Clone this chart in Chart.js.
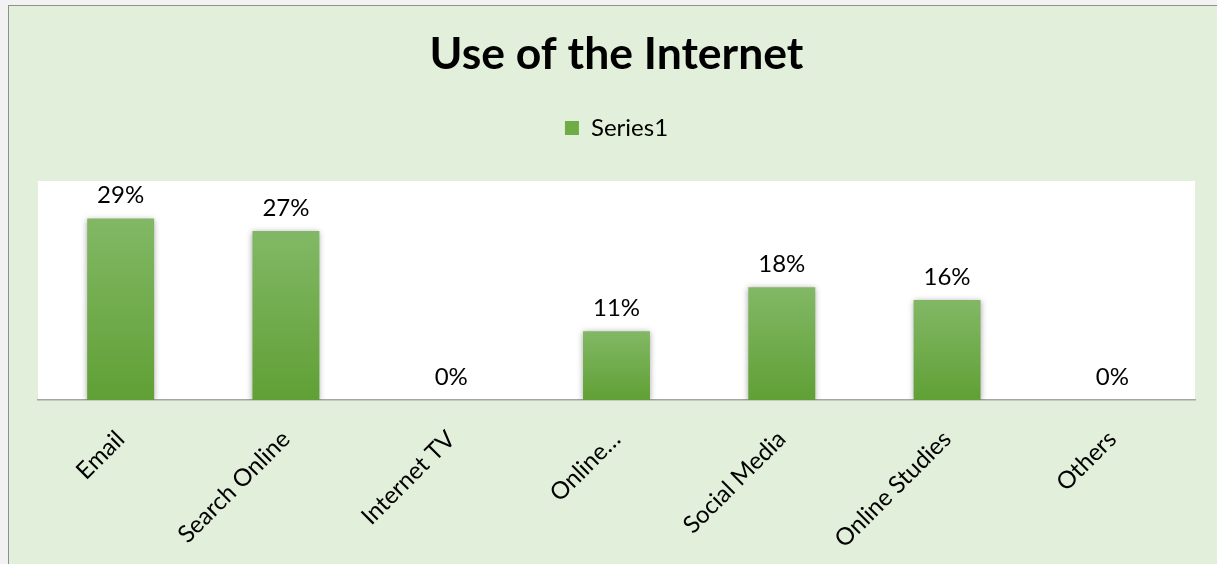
<!DOCTYPE html>
<html>
<head>
<meta charset="utf-8">
<script src="https://cdn.jsdelivr.net/npm/chart.js@4/dist/chart.umd.min.js"></script>
<style>
  html, body { margin: 0; padding: 0; background: #f2f2f2; overflow: hidden; }
  #frame {
    position: absolute; left: 8px; top: 5px;
    width: 1209px; height: 559px;
    background: #e2efda;
    border-left: 1px solid #8f8f8f;
    border-top: 1px solid #8f8f8f;
  }
  #usage { display: block; }
</style>
</head>
<body>
<div id="frame"><canvas id="usage" width="1208" height="558"></canvas></div>
<script>
// categories and shares (percent)
const categories = ["Email", "Search Online", "Internet TV", "Online…", "Social Media", "Online Studies", "Others"];
const shares = [29, 27, 0, 11, 18, 16, 0];
const seriesName = "Series1";

const FONT = "Lato, 'Open Sans', sans-serif";

// vertical gradient per bar: lighter top, darker bottom
function barFill(ctx) {
  const chart = ctx.chart;
  const y = chart.scales.y;
  if (!y || ctx.type !== "data") return "#70ad47";
  const top = y.getPixelForValue(ctx.raw);
  const bottom = y.getPixelForValue(0);
  if (!isFinite(top) || bottom - top < 1) return "#70ad47";
  const g = chart.ctx.createLinearGradient(0, top, 0, bottom);
  g.addColorStop(0, "#82b865");
  g.addColorStop(1, "#60a035");
  return g;
}

// white plot area, soft shadow under bars, value labels above bars
const plotDecor = {
  id: "plotDecor",
  beforeInit(chart) {
    const fit = chart.legend.fit;
    chart.legend.fit = function () {
      fit.call(this);
      this.height += 31;
    };
  },
  beforeDraw(chart) {
    const { ctx, chartArea: a } = chart;
    ctx.save();
    ctx.fillStyle = "#ffffff";
    ctx.fillRect(a.left, a.top, a.right - a.left, a.bottom - a.top);
    ctx.restore();
  },
  beforeDatasetsDraw(chart) {
    const ctx = chart.ctx;
    ctx.save();
    ctx.shadowColor = "rgba(0,0,0,0.35)";
    ctx.shadowBlur = 6;
    ctx.shadowOffsetX = 0;
    ctx.shadowOffsetY = 1;
  },
  afterDatasetsDraw(chart) {
    const ctx = chart.ctx;
    ctx.restore();
    const meta = chart.getDatasetMeta(0);
    ctx.save();
    ctx.font = "24px " + FONT;
    ctx.fillStyle = "#000";
    ctx.textAlign = "center";
    ctx.textBaseline = "middle";
    meta.data.forEach((bar, i) => {
      ctx.fillText(shares[i] + "%", bar.x, bar.y - 23);
    });
    ctx.restore();
  }
};

new Chart(document.getElementById("usage"), {
  type: "bar",
  data: {
    labels: categories,
    datasets: [{
      label: seriesName,
      data: shares,
      backgroundColor: barFill,
      borderWidth: 0,
      barPercentage: 0.405,
      categoryPercentage: 1
    }]
  },
  plugins: [plotDecor],
  options: {
    responsive: false,
    animation: false,
    layout: { padding: { left: 29, right: 22, top: 0, bottom: 0 } },
    scales: {
      y: { min: 0, max: 35, display: false },
      x: {
        grid: { display: false },
        border: { display: true, color: "#a6a6a6", width: 1.5 },
        ticks: {
          autoSkip: false,
          minRotation: 45,
          maxRotation: 45,
          padding: 17,
          color: "#000",
          font: { family: FONT, size: 24 }
        },
        afterFit(scale) { scale.height = 164; }
      }
    },
    plugins: {
      title: {
        display: true,
        text: "Use of the Internet",
        color: "#000",
        font: { family: FONT, size: 44.5, weight: "bold" },
        padding: { top: 22, bottom: 24.6 }
      },
      legend: {
        display: true,
        position: "top",
        labels: {
          color: "#000",
          font: { family: FONT, size: 24 },
          boxWidth: 14,
          boxHeight: 14,
          padding: 10,
          generateLabels(chart) {
            return Chart.defaults.plugins.legend.labels.generateLabels(chart).map(l => {
              l.fillStyle = "#6fac46";
              l.strokeStyle = "#6fac46";
              l.lineWidth = 0;
              return l;
            });
          }
        }
      },
      tooltip: { enabled: false }
    }
  }
});
</script>
</body>
</html>
